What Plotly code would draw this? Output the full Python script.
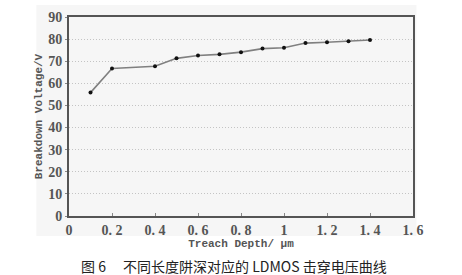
import plotly.graph_objects as go

depth = [0.1, 0.2, 0.4, 0.5, 0.6, 0.7, 0.8, 0.9, 1.0, 1.1, 1.2, 1.3, 1.4]
voltage = [55.8, 66.7, 67.7, 71.3, 72.6, 73.1, 74.1, 75.7, 76.1, 78.2, 78.6, 79.0, 79.6]
x_ticks = [0, 0.2, 0.4, 0.6, 0.8, 1.0, 1.2, 1.4, 1.6]
x_tick_text = ["0", "0. 2", "0. 4", "0. 6", "0. 8", "1", "1. 2", "1. 4", "1. 6"]
y_ticks = [0, 10, 20, 30, 40, 50, 60, 70, 80, 90]
x_title = "Treach Depth/ μm"
y_title = "Breakdown Voltage/V"
caption = "图 6　 不同长度阱深对应的 LDMOS 击穿电压曲线"

fig = go.Figure()
fig.add_trace(go.Scatter(
    x=depth, y=voltage, mode="lines+markers",
    line=dict(color="#808080", width=1.6),
    marker=dict(color="#111111", size=4, symbol="circle"),
    showlegend=False,
))

# light gray panel behind the chart
fig.add_shape(type="rect", xref="paper", yref="paper",
              x0=-0.095, x1=1.01, y0=-0.1, y1=1.06,
              fillcolor="#f6f6f6", line=dict(width=0), layer="below")

fig.update_layout(
    width=462, height=275,
    margin=dict(l=69, r=49, t=10, b=59),
    paper_bgcolor="white",
    plot_bgcolor="#fafafa",
    font=dict(family="Liberation Serif", color="#555555"),
    xaxis=dict(
        range=[0, 1.6], tickvals=x_ticks, ticktext=x_tick_text,
        showgrid=False, zeroline=False,
        showline=True, linecolor="#555555", linewidth=2, mirror=True,
        ticks="inside", ticklen=3, tickcolor="#888888",
        tickfont=dict(family="Liberation Serif", size=14, color="#555555", weight="bold"),
        title=dict(text=x_title, standoff=1,
                   font=dict(family="Liberation Mono", size=11, color="#555555", weight="bold")),
    ),
    yaxis=dict(
        range=[0, 90], tickvals=y_ticks,
        showgrid=True, gridcolor="#c4c4c4", griddash="1px,2px", gridwidth=1,
        zeroline=False,
        showline=True, linecolor="#555555", linewidth=2, mirror=True,
        ticks="outside", ticklen=2, tickcolor="#888888",
        tickfont=dict(family="Liberation Serif", size=14, color="#555555", weight="bold"),
        title=dict(text=y_title, standoff=3,
                   font=dict(family="Liberation Mono", size=11, color="#555555", weight="bold")),
    ),
    annotations=[dict(
        text=caption, xref="paper", yref="paper", x=0.48, y=-0.19,
        xanchor="center", yanchor="top", showarrow=False,
        font=dict(family="Noto Sans CJK SC", size=14, color="#222222"),
    )],
)

fig.write_html("out.html")
